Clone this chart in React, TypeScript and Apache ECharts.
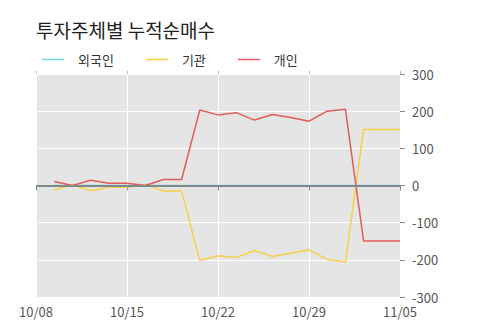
import React, { useEffect, useRef } from "react";
import * as echarts from "echarts";

const title = "투자주체별 누적순매수";
const dates = [
  "10/08", "10/09", "10/10", "10/11", "10/14", "10/15", "10/16", "10/17", "10/18", "10/21", "10/22",
  "10/23", "10/24", "10/25", "10/28", "10/29", "10/30", "10/31", "11/01", "11/04", "11/05",
];
const foreign = [null, 0, 0, 0, 0, 0, 0, 0, 0, 0, 0, 0, 0, 0, 0, 0, 0, 0, 0, 0, 0];
const institution = [null, -12, 2, -14, -5, -5, 3, -15, -15, -202, -189, -194, -175, -191, -182, -173, -199, -206, 151, 151, 151];
const individual = [null, 11, 0, 14, 6, 6, 0, 16, 16, 203, 190, 196, 176, 191, 183, 173, 200, 205, -149, -149, -149];
const yTicks = { min: -300, max: 300, interval: 100 };

const FONT = "'Noto Sans CJK KR', 'Noto Sans', sans-serif";

export default function App() {
  const ref = useRef<HTMLDivElement>(null);
  useEffect(() => {
    if (!ref.current) return;
    const chart = echarts.init(ref.current, undefined, { renderer: "svg" });
    chart.setOption({
      animation: false,
      backgroundColor: "#ffffff",
      textStyle: { fontFamily: FONT },
      title: {
        text: title,
        left: 31,
        top: 15,
        textStyle: { fontSize: 19, fontWeight: "normal", color: "#222", fontFamily: FONT },
      },
      legend: {
        left: 37,
        top: 48,
        icon: "rect",
        itemWidth: 22,
        itemHeight: 1.5,
        itemGap: 32,
        textStyle: { fontSize: 13, color: "#333", fontFamily: FONT, padding: [0, 0, 0, 9] },
        data: ["외국인", "기관", "개인"],
      },
      grid: { left: 36, right: 100, top: 74, bottom: 26, show: true, backgroundColor: "#e5e5e5", borderWidth: 0 },
      xAxis: [
        {
          type: "category",
          data: dates,
          boundaryGap: false,
          axisLine: { show: false },
          axisTick: { show: true, interval: 4, length: 5, lineStyle: { color: "#888" } },
          axisLabel: { interval: 4, fontSize: 13, color: "#555", margin: 8, fontFamily: FONT },
          splitLine: { show: true, interval: 4, lineStyle: { color: "#ffffff", width: 1 } },
        },
        {
          type: "category",
          data: dates,
          position: "top",
          boundaryGap: false,
          axisLine: { show: false },
          axisTick: { show: true, interval: 4, length: 3, lineStyle: { color: "#bbb" } },
          axisLabel: { show: false },
          splitLine: { show: false },
        },
      ],
      yAxis: {
        type: "value",
        position: "right",
        min: yTicks.min,
        max: yTicks.max,
        interval: yTicks.interval,
        axisLine: { show: false },
        axisTick: { show: true, length: 5, lineStyle: { color: "#888" } },
        axisLabel: { fontSize: 13, color: "#555", margin: 12, fontFamily: FONT },
        splitLine: { show: true, lineStyle: { color: "#ffffff", width: 1 } },
      },
      series: [
        {
          name: "외국인",
          type: "line",
          data: foreign,
          symbol: "none",
          lineStyle: { color: "#6fdcdc", width: 1.5 },
          itemStyle: { color: "#6fdcdc" },
          z: 1,
          markLine: {
            silent: true,
            symbol: "none",
            label: { show: false },
            lineStyle: { color: "#7c8a8c", width: 2, type: "solid" },
            data: [{ yAxis: 0 }],
          },
        },
        {
          name: "기관",
          type: "line",
          data: institution,
          symbol: "none",
          lineStyle: { color: "#f7cf48", width: 1.5 },
          itemStyle: { color: "#f7cf48" },
          z: 3,
        },
        {
          name: "개인",
          type: "line",
          data: individual,
          symbol: "none",
          lineStyle: { color: "#e35c5c", width: 1.5 },
          itemStyle: { color: "#e35c5c" },
          z: 4,
        },
      ],
    });
    return () => chart.dispose();
  }, []);
  return <div ref={ref} style={{ width: 500, height: 323, position: "absolute", left: 0, top: 0 }} />;
}
